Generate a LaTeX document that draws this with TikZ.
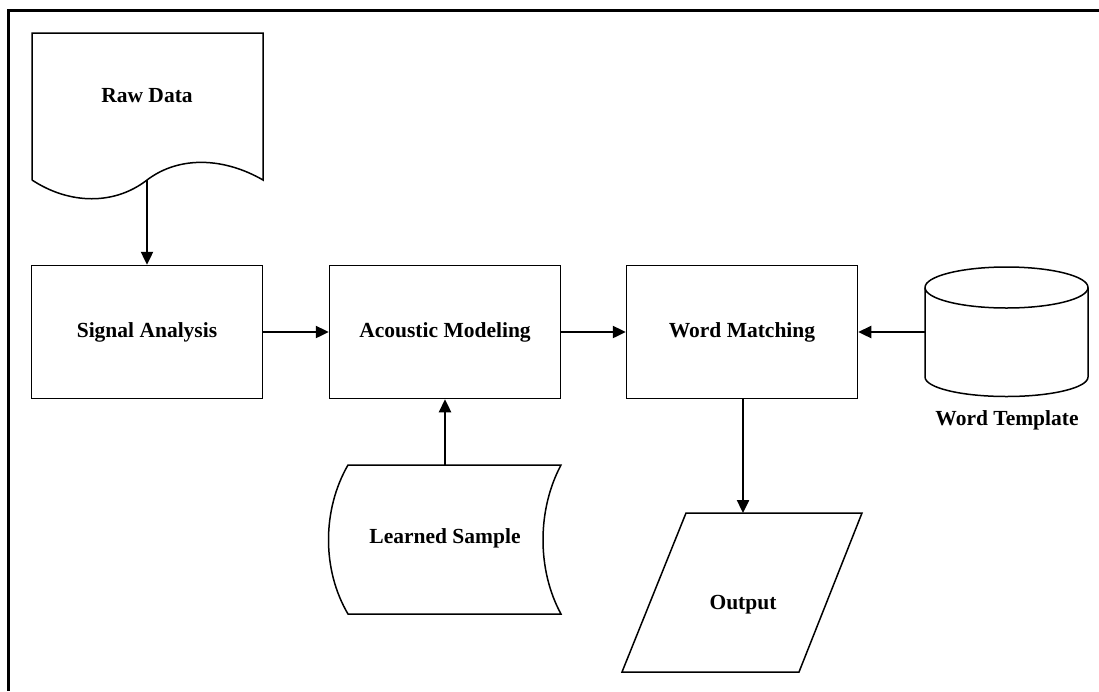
\documentclass[tikz,border=0pt]{standalone}
\usepackage{fontspec}
\setmainfont{Liberation Serif}
\usetikzlibrary{arrows.meta}
\begin{document}
\begin{tikzpicture}[x=1pt,y=-1pt,
  lbl/.style={font=\fontsize{21.5}{24}\selectfont\bfseries, inner sep=0pt},
  procbox/.style={draw, line width=1.5pt, minimum width=231pt, minimum height=133pt, inner sep=0pt, font=\fontsize{21.5}{24}\selectfont\bfseries},
  shapeline/.style={line width=1.5pt},
  flow/.style={line width=2.4pt, -{Triangle[length=13pt,width=12pt]}},
  frame/.style={line width=3pt}]
\useasboundingbox (0,0) rectangle (1099,691);
% frame: top and left edges only
\draw[frame] (1099,10) -- (8.5,10) -- (8.5,691);

% raw data (document shape)
\draw[shapeline] (32,180) -- (32,33) -- (263,33) -- (263,180)
  .. controls (225,158) and (180,155) .. (147,180)
  .. controls (115,205) and (70,205) .. (32,180);
\node[lbl] (raw) at (147,96) {Raw Data};
\coordinate (rawout) at (147,180);

% processing steps
\node[procbox] (sig) at (147,332) {Signal Analysis};
\node[procbox] (aco) at (445,332) {Acoustic Modeling};
\node[procbox] (wm)  at (742,332) {Word Matching};

% learned sample (stored data shape)
\draw[shapeline] (348,465) -- (561,465)
  .. controls (537,510) and (537,570) .. (561,614)
  -- (348,614)
  .. controls (322,570) and (322,510) .. (348,465) -- cycle;
\node[lbl] (ls) at (445,538) {Learned Sample};
\coordinate (lsin) at (445,465);

% word template (cylinder)
\draw[shapeline] (1006.5,287.5) ellipse [x radius=81.5, y radius=20.5];
\draw[shapeline] (925,287.5) -- (925,377)
  arc [start angle=180, end angle=360, x radius=81.5, y radius=-19.5]
  -- (1088,287.5);
\coordinate (cylw) at (925,332);
\node[lbl] (wt) at (1007,420) {Word Template};

% output (parallelogram)
\draw[shapeline] (686,513) -- (862,513) -- (799,672) -- (622,672) -- cycle;
\node[lbl] (out) at (743,605) {Output};
\coordinate (outin) at (743,513);

% connectors
\draw[flow] (rawout) -- (sig.north);
\draw[flow] (sig.east) -- (aco.west);
\draw[flow] (aco.east) -- (wm.west);
\draw[flow] (cylw) -- (wm.east);
\draw[flow] (lsin) -- (aco.south);
\draw[flow] (wm.south -| outin) -- (outin);
\end{tikzpicture}
\end{document}
